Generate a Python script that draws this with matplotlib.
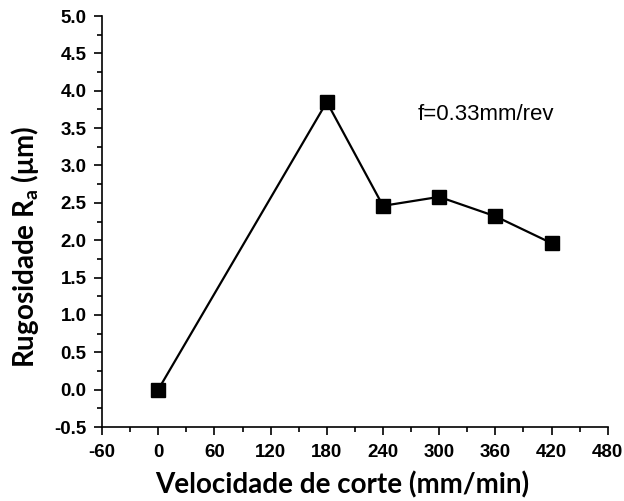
import matplotlib
matplotlib.use("Agg")
import matplotlib.pyplot as plt
from matplotlib.ticker import MultipleLocator

plt.rcParams["axes.unicode_minus"] = False

speed = [0, 180, 240, 300, 360, 420]
roughness = [0.0, 3.85, 2.46, 2.58, 2.32, 1.96]
feed_label = "f=0.33mm/rev"

fig = plt.figure(figsize=(6.24, 5.01), dpi=100)
ax = fig.add_axes([0.1635, 0.1477, 0.8105, 0.8203])

ax.plot(speed, roughness, color="black", linewidth=1.6, marker="s",
        markersize=10, markerfacecolor="black", markeredgecolor="black")

ax.set_xlim(-60, 480)
ax.set_ylim(-0.5, 5.0)
ax.xaxis.set_major_locator(MultipleLocator(60))
ax.xaxis.set_minor_locator(MultipleLocator(30))
ax.yaxis.set_major_locator(MultipleLocator(0.5))
ax.yaxis.set_minor_locator(MultipleLocator(0.25))
ax.yaxis.set_major_formatter(plt.FuncFormatter(lambda v, p: f"{v:.1f}"))

for s in ["top", "right"]:
    ax.spines[s].set_visible(False)
for s in ["left", "bottom"]:
    ax.spines[s].set_linewidth(1.2)

ax.tick_params(which="major", direction="out", length=6, width=1.2)
ax.tick_params(axis="x", which="major", pad=6)
ax.tick_params(axis="y", which="major", pad=5)
ax.tick_params(which="minor", direction="out", length=3.5, width=1.2)
for lab in ax.get_xticklabels() + ax.get_yticklabels():
    lab.set_fontfamily("Liberation Sans")
    lab.set_fontweight("bold")
    lab.set_fontsize(13.5)

ax.set_xlabel("Velocidade de corte (mm/min)", fontfamily="Lato",
              fontweight="bold", fontsize=20)
ax.set_ylabel(r"Rugosidade R$_\mathregular{a}$ ($\mathregular{\mu}$m)", fontfamily="Lato",
              fontweight="bold", fontsize=20)
ax.xaxis.set_label_coords(0.474, -0.107)
ax.yaxis.set_label_coords(-0.12, 0.438)

ax.text(277, 3.68, feed_label, fontfamily="Liberation Sans", fontsize=16,
        va="center", ha="left")

fig.savefig("out.png", dpi=100)
